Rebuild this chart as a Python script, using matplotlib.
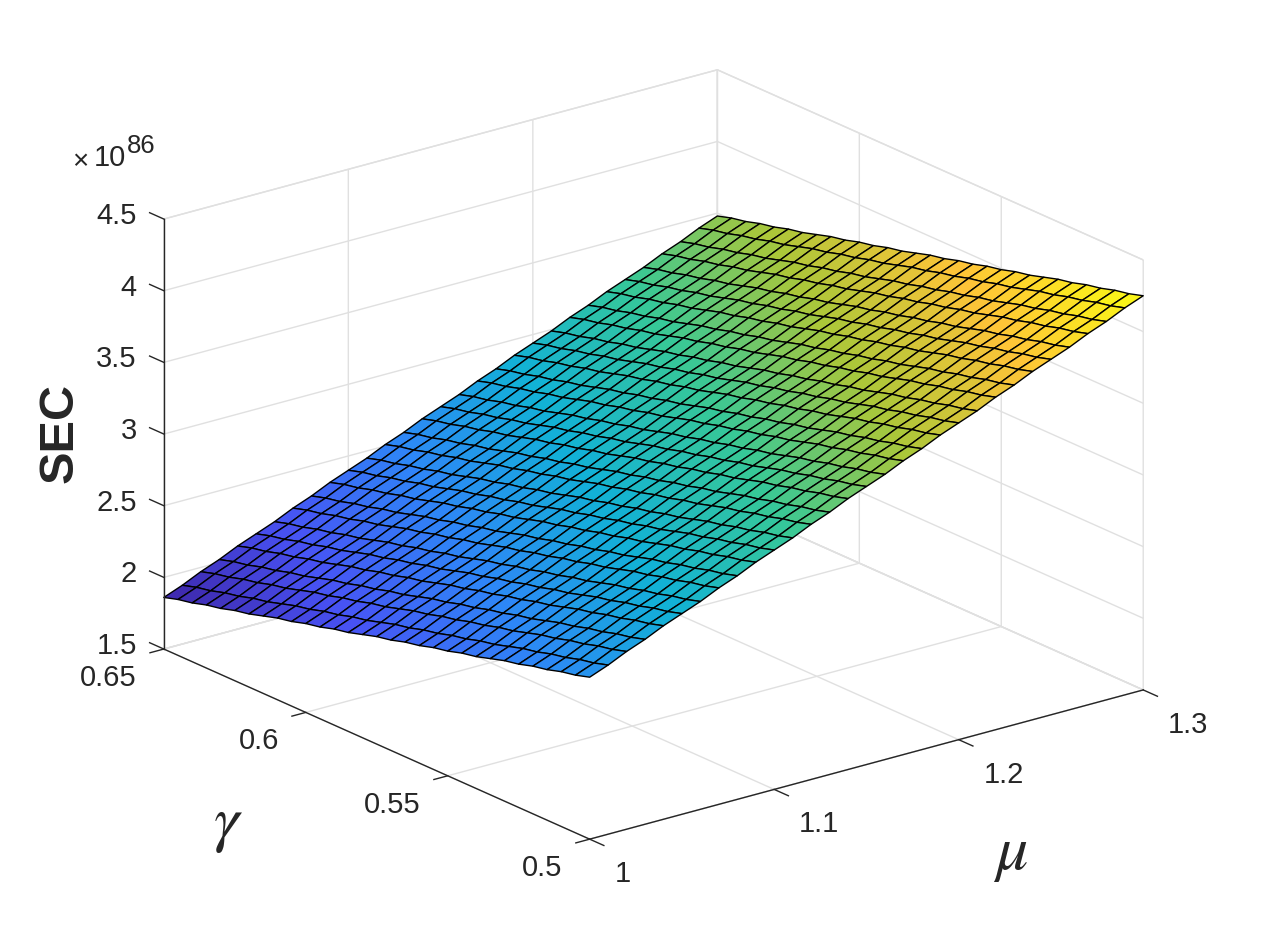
import numpy as np
import matplotlib
matplotlib.use('Agg')
import matplotlib.pyplot as plt
from matplotlib.colors import LinearSegmentedColormap
from mpl_toolkits.mplot3d import proj3d

plt.rcParams['font.family'] = ['Liberation Sans', 'DejaVu Sans']

# sample points of the surface
mu_values = [1.00, 1.01, 1.02, 1.03, 1.04, 1.05, 1.06, 1.07, 1.08, 1.09, 1.10,
             1.11, 1.12, 1.13, 1.14, 1.15, 1.16, 1.17, 1.18, 1.19, 1.20,
             1.21, 1.22, 1.23, 1.24, 1.25, 1.26, 1.27, 1.28, 1.29, 1.30]
gamma_values = [0.500, 0.505, 0.510, 0.515, 0.520, 0.525, 0.530, 0.535, 0.540, 0.545, 0.550,
                0.555, 0.560, 0.565, 0.570, 0.575, 0.580, 0.585, 0.590, 0.595, 0.600,
                0.605, 0.610, 0.615, 0.620, 0.625, 0.630, 0.635, 0.640, 0.645, 0.650]

# SEC (x 1e86) read along the two front edges of the surface
sec_along_mu = [2.63, 2.68, 2.74, 2.79, 2.85, 2.90, 2.95, 3.01, 3.06, 3.12, 3.17,
                3.22, 3.28, 3.33, 3.39, 3.44, 3.49, 3.55, 3.60, 3.66, 3.71,
                3.76, 3.82, 3.87, 3.93, 3.98, 4.03, 4.09, 4.14, 4.20, 4.25]
sec_along_gamma = [2.63, 2.60, 2.58, 2.55, 2.53, 2.50, 2.48, 2.45, 2.42, 2.40, 2.37,
                   2.35, 2.32, 2.30, 2.27, 2.25, 2.22, 2.19, 2.17, 2.14, 2.12,
                   2.09, 2.07, 2.04, 2.01, 1.99, 1.96, 1.94, 1.91, 1.89, 1.86]

mu_ticks = [1, 1.1, 1.2, 1.3]
mu_labels = ['1', '1.1', '1.2', '1.3']
gamma_ticks = [0.5, 0.55, 0.6, 0.65]
gamma_labels = ['0.5', '0.55', '0.6', '0.65']
sec_ticks = [1.5, 2, 2.5, 3, 3.5, 4, 4.5]
sec_labels = ['1.5', '2', '2.5', '3', '3.5', '4', '4.5']

# parula style colours
parula = LinearSegmentedColormap.from_list('parula', [
    (0.2422, 0.1504, 0.6603), (0.2810, 0.3228, 0.9579), (0.1786, 0.5289, 0.9682),
    (0.0689, 0.6948, 0.8394), (0.2161, 0.7843, 0.5923), (0.6720, 0.7793, 0.2227),
    (0.9970, 0.7659, 0.2199), (0.9769, 0.9839, 0.0805)])

MU, GAMMA = np.meshgrid(mu_values, gamma_values)
# the two edges add up to the table the surface needs (the surface is flat)
SEC = np.add.outer(np.array(sec_along_gamma) - sec_along_gamma[0], np.array(sec_along_mu))

fig = plt.figure(figsize=(12.62, 9.47), dpi=100)
# axes bigger than the figure so nothing gets clipped at the square's edge
ax = fig.add_axes([-65.4 / 1262, -226.4 / 947, 1400 / 1262, 1400 / 947],
                  projection='3d', proj_type='ortho')
ax.set_box_aspect((1, 0.99, 0.654), zoom=0.7543)
ax.view_init(elev=20.3, azim=-127.85)
ax.computed_zorder = False
ax.patch.set_alpha(0)

ax.set_xlim(1, 1.3)
ax.set_ylim(0.5, 0.65)
ax.set_zlim(1.5, 4.5)
ax.set_xticks(mu_ticks)
ax.set_yticks(gamma_ticks)
ax.set_zticks(sec_ticks)
ax.set_xticklabels([])
ax.set_yticklabels([])
ax.set_zticklabels([])

grid_color = '#e0e0e0'
dark = '#262626'
for axis in [ax.xaxis, ax.yaxis, ax.zaxis]:
    axis.set_pane_color((1, 1, 1, 1))
    axis.pane.set_edgecolor(grid_color)
    axis.pane.set_linewidth(1)
    axis.line.set_color((0, 0, 0, 0))
    axis._axinfo['grid']['color'] = grid_color
    axis._axinfo['grid']['linewidth'] = 1
    axis._axinfo['tick']['inward_factor'] = 0
    axis._axinfo['tick']['outward_factor'] = 0

ax.plot_surface(MU, GAMMA, SEC, rstride=1, cstride=1, cmap=parula, shade=False,
                vmin=min(sec_along_gamma), vmax=max(sec_along_mu),
                edgecolor='black', linewidth=1.0, zorder=1)

# axis lines and tick marks the way matlab puts them
ax.plot([1, 1.3], [0.5, 0.5], [1.5, 1.5], color=dark, lw=1, zorder=2)
ax.plot([1, 1], [0.5, 0.65], [1.5, 1.5], color=dark, lw=1, zorder=2)
ax.plot([1, 1], [0.65, 0.65], [1.5, 4.5], color=dark, lw=1, zorder=2)
for m in mu_ticks:
    ax.plot([m, m], [0.5, 0.495], [1.5, 1.5], color=dark, lw=1, zorder=2)
for g in gamma_ticks:
    ax.plot([1, 0.9925], [g, g], [1.5, 1.5], color=dark, lw=1, zorder=2)
for s in sec_ticks:
    ax.plot([1, 1], [0.65, 0.655], [s, s], color=dark, lw=1, zorder=2)


def label_at(x, y, z, text, dx, dy, ha):
    # text placed in pixels from a point of the 3d box
    px, py, _ = proj3d.proj_transform(x, y, z, ax.get_proj())
    ax.annotate(text, xy=(px, py), xytext=(dx, dy), textcoords='offset pixels',
                ha=ha, va='center', fontsize=21, color=dark, annotation_clip=False)


for m, t in zip(mu_ticks, mu_labels):
    label_at(m, 0.5, 1.5, t, 25, -35, 'left')
for g, t in zip(gamma_ticks, gamma_labels):
    label_at(1, g, 1.5, t, -27, -29, 'right')
for s, t in zip(sec_ticks, sec_labels):
    label_at(1, 0.65, s, t, -27, 3, 'right')

fig.text(72 / 1262, 1 - 162 / 947, '\u00d7', fontsize=20, color=dark, ha='left', va='center')
fig.text(94 / 1262, 1 - 158 / 947, '10', fontsize=21, color=dark, ha='left', va='center')
fig.text(127 / 1262, 1 - 146 / 947, '86', fontsize=18.5, color=dark, ha='left', va='center')
fig.text(60 / 1262, 1 - 433 / 947, 'SEC', fontsize=35, fontweight='bold', color=dark,
         rotation=90, ha='center', va='center')
fig.text(228 / 1262, 1 - 825 / 947, r'$\gamma$', fontsize=46, color=dark, ha='center',
         va='center', math_fontfamily='stix')
fig.text(1010 / 1262, 1 - 854 / 947, r'$\mu$', fontsize=46, color=dark, ha='center',
         va='center', math_fontfamily='stix')

fig.savefig('out.png', dpi=100)
